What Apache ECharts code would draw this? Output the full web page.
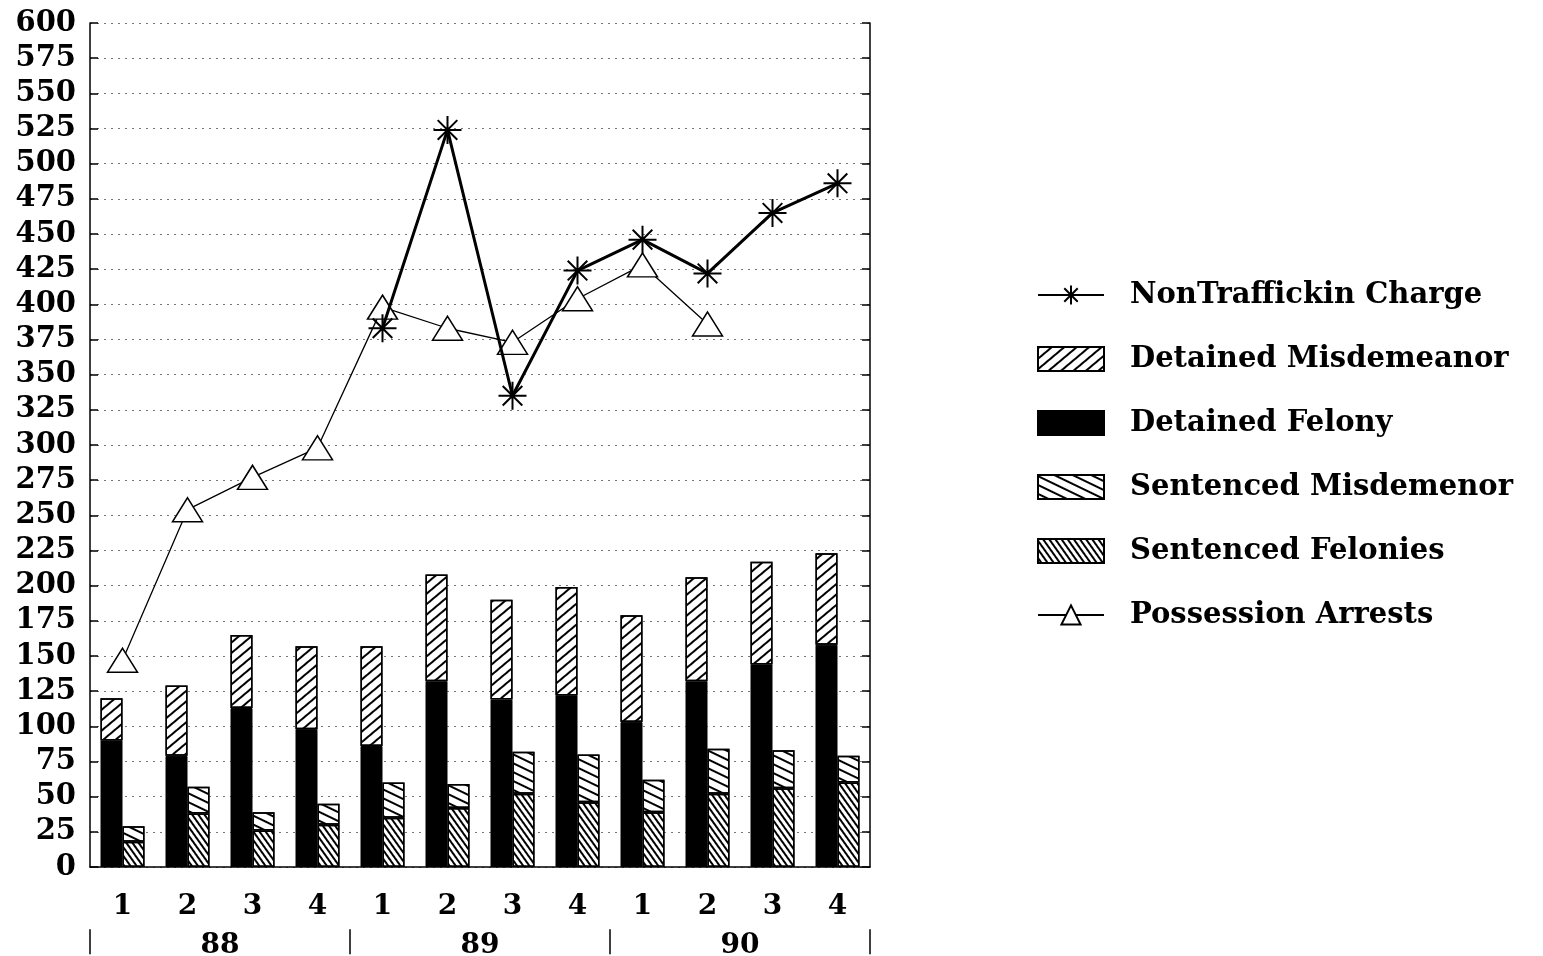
<!DOCTYPE html>
<html>
<head>
<meta charset="utf-8">
<script src="https://cdn.jsdelivr.net/npm/echarts@6/dist/echarts.min.js"></script>
<style>
html,body{margin:0;padding:0;background:#fff;}
#chart{width:1543px;height:956px;}
</style>
</head>
<body>
<div id="chart"></div>
<script>
const quarters = ['1','2','3','4','1','2','3','4','1','2','3','4'];
const years = ['88','89','90'];
const yTicks = {min: 0, max: 600, interval: 25};

const detainedFelony      = [90, 79, 113, 98, 86, 132, 119, 122, 103, 132, 144, 158];
const detainedMisdemeanor = [30, 50, 52, 59, 71, 76, 71, 77, 76, 74, 73, 65];
const sentencedFelonies   = [18, 38, 26, 30, 35, 42, 52, 46, 39, 52, 56, 60];
const sentencedMisdemenor = [11, 19, 13, 15, 25, 17, 30, 34, 23, 32, 27, 19];
const nonTrafficking      = [null, null, null, null, 383, 524, 335, 424, 446, 422, 465, 486];
const possession          = [147, 254, 277, 298, 398, 383, 373, 404, 428, 386, null, null];

const FONT = 'DejaVu Serif';
const asterisk = 'path://M0,-10L0,10M-10,0L10,0M-7,-7L7,7M-7,7L7,-7';

function hatch(rot, lw, gap) {
  return {symbol: 'rect', symbolSize: 1, dashArrayX: [1, 0], dashArrayY: [lw, gap],
          rotation: rot, color: '#000'};
}

const chart = echarts.init(document.getElementById('chart'));
chart.setOption({
  backgroundColor: '#fff',
  animation: false,
  grid: [
    {left: 90, right: 673, top: 23, bottom: 89},
    {left: 90, right: 673, top: 929, height: 1}
  ],
  legend: {
    orient: 'vertical', left: 1032, top: 275, itemWidth: 66, itemHeight: 24, itemGap: 34,
    data: [
      {name: 'NonTraffickin Charge'},
      {name: 'Detained Misdemeanor', icon: 'rect'},
      {name: 'Detained Felony', icon: 'rect'},
      {name: 'Sentenced Misdemenor', icon: 'rect'},
      {name: 'Sentenced Felonies', icon: 'rect'},
      {name: 'Possession Arrests'}
    ],
    textStyle: {fontFamily: FONT, fontWeight: 'bold', fontSize: 29, color: '#000',
                padding: [0, 0, 0, 21], lineHeight: 30}
  },
  xAxis: [{
    type: 'category', gridIndex: 0, data: quarters, boundaryGap: true,
    axisLine: {lineStyle: {color: '#000', width: 1.5}},
    axisTick: {show: false},
    axisLabel: {interval: 0, margin: 26, color: '#000', fontFamily: FONT, fontWeight: 'bold', fontSize: 28}
  }, {
    type: 'category', gridIndex: 1, data: years, position: 'bottom', boundaryGap: true,
    axisLine: {show: false},
    axisTick: {show: true, length: 25, interval: 0, lineStyle: {color: '#000', width: 1.5}},
    axisLabel: {interval: 0, margin: 2, color: '#000', fontFamily: FONT, fontWeight: 'bold', fontSize: 28}
  }],
  yAxis: [{
    type: 'value', gridIndex: 0, min: yTicks.min, max: yTicks.max, interval: yTicks.interval,
    axisLine: {show: true, lineStyle: {color: '#000', width: 1.5}},
    axisTick: {show: true, inside: true, length: 8, lineStyle: {color: '#000', width: 1.5}},
    axisLabel: {margin: 14, color: '#000', fontFamily: FONT, fontWeight: 'bold', fontSize: 29},
    splitLine: {show: true, lineStyle: {color: '#777', type: [2, 5], width: 1}}
  }, {
    type: 'value', gridIndex: 0, position: 'right', min: yTicks.min, max: yTicks.max, interval: yTicks.interval,
    axisLine: {show: true, lineStyle: {color: '#000', width: 1.5}},
    axisTick: {show: true, inside: true, length: 8, lineStyle: {color: '#000', width: 1.5}},
    axisLabel: {show: false}, splitLine: {show: false}
  }, {
    type: 'value', gridIndex: 1, show: false
  }],
  series: [
    {name: 'Detained Felony', type: 'bar', stack: 'det', data: detainedFelony, barWidth: 22, barGap: '0%',
     itemStyle: {color: '#000', borderColor: '#000', borderWidth: 1}},
    {name: 'Detained Misdemeanor', type: 'bar', stack: 'det', data: detainedMisdemeanor, barWidth: 22, barGap: '0%',
     itemStyle: {color: '#fff', borderColor: '#000', borderWidth: 1.5, decal: hatch(-Math.PI / 4.5, 2, 6)}},
    {name: 'Sentenced Felonies', type: 'bar', stack: 'sen', data: sentencedFelonies, barWidth: 22, barGap: '0%',
     itemStyle: {color: '#fff', borderColor: '#000', borderWidth: 1.5, decal: hatch(Math.PI / 3.3, 2, 3)}},
    {name: 'Sentenced Misdemenor', type: 'bar', stack: 'sen', data: sentencedMisdemenor, barWidth: 22, barGap: '0%',
     itemStyle: {color: '#fff', borderColor: '#000', borderWidth: 1.5, decal: hatch(Math.PI / 7, 2, 6)}},
    {name: 'Possession Arrests', type: 'line', data: possession, connectNulls: false,
     symbol: 'triangle', symbolSize: [30, 24],
     lineStyle: {color: '#000', width: 1.3},
     itemStyle: {color: '#fff', borderColor: '#000', borderWidth: 1.5}, z: 3},
    {name: 'NonTraffickin Charge', type: 'line', data: nonTrafficking, connectNulls: false,
     symbol: asterisk, symbolSize: 28,
     lineStyle: {color: '#000', width: 3},
     itemStyle: {color: '#000', borderColor: '#000', borderWidth: 2}, z: 4}
  ]
});
</script>
</body>
</html>
